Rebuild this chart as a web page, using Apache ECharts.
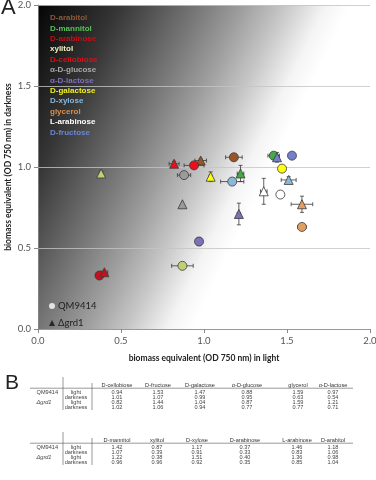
<!DOCTYPE html>
<html>
<head>
<meta charset="utf-8">
<script src="https://cdn.jsdelivr.net/npm/echarts@6/dist/echarts.min.js"></script>
<style>
  html, body { margin: 0; padding: 0; background: #fff; }
  #main { width: 376px; height: 480px; }
</style>
</head>
<body>
<div id="main"></div>
<script>
// sugars in table order (B), first six = upper table, last six = lower table
var sugars = ['D-cellobiose', 'D-fructose', 'D-galactose', 'α-D-glucose', 'glycerol', 'α-D-lactose',
              'D-mannitol', 'xylitol', 'D-xylose', 'D-arabinose', 'L-arabinose', 'D-arabitol'];
var qmLight  = [0.94, 1.53, 1.47, 0.88, 1.59, 0.97, 1.42, 0.87, 1.17, 0.37, 1.46, 1.18];
var qmDark   = [1.01, 1.07, 0.99, 0.95, 0.63, 0.54, 1.07, 0.39, 0.91, 0.33, 0.83, 1.06];
var grdLight = [0.82, 1.44, 1.04, 0.87, 1.59, 1.21, 1.22, 0.38, 1.51, 0.40, 1.36, 0.98];
var grdDark  = [1.02, 1.06, 0.94, 0.77, 0.77, 0.71, 0.96, 0.96, 0.92, 0.35, 0.85, 1.04];
// error bars
var qmErrX  = [0.06, 0, 0.02, 0.04, 0.025, 0.01, 0.035, 0.065, 0.07, 0.02, 0.02, 0.05];
var qmErrY  = [0.01, 0, 0.015, 0.01, 0.01, 0.025, 0.01, 0.01, 0.01, 0.01, 0.02, 0.01];
var grdErrX = [0.03, 0.01, 0.01, 0, 0.065, 0.01, 0.02, 0.01, 0.045, 0.02, 0.02, 0.035];
var grdErrY = [0.015, 0.03, 0.03, 0, 0.05, 0.067, 0.05, 0.015, 0.02, 0.01, 0.08, 0.01];

var legendOrder = ['D-arabitol', 'D-mannitol', 'D-arabinose', 'xylitol', 'D-cellobiose', 'α-D-glucose',
                   'α-D-lactose', 'D-galactose', 'D-xylose', 'glycerol', 'L-arabinose', 'D-fructose'];
var markerColors = {
  'D-arabitol': '#9a5526', 'D-mannitol': '#46a846', 'D-arabinose': '#c8101c', 'xylitol': '#c2cf72',
  'D-cellobiose': '#e8101c', 'α-D-glucose': '#9a9a9a', 'α-D-lactose': '#7b72b8', 'D-galactose': '#ffff10',
  'D-xylose': '#8ab8d6', 'glycerol': '#e2a060', 'L-arabinose': '#ffffff', 'D-fructose': '#7480cc'
};
var labelColors = {
  'D-arabitol': '#8c5a38', 'D-mannitol': '#58c058', 'D-arabinose': '#c80c14', 'xylitol': '#eeeec0',
  'D-cellobiose': '#d8101a', 'α-D-glucose': '#a8a8a8', 'α-D-lactose': '#8070b8', 'D-galactose': '#f0f020',
  'D-xylose': '#88b8dc', 'glycerol': '#d89050', 'L-arabinose': '#ffffff', 'D-fructose': '#6a86d8'
};
var strains = ['QM9414', 'Δgrd1'];
var axisTicks = [0, 0.5, 1.0, 1.5, 2.0];

var chart = echarts.init(document.getElementById('main'));

var series = [];

// error bars
var errData = [];
sugars.forEach(function (s, i) {
  errData.push([qmLight[i], qmDark[i], qmErrX[i], qmErrY[i]]);
  errData.push([grdLight[i], grdDark[i], grdErrX[i], grdErrY[i]]);
});
series.push({
  type: 'custom',
  silent: true,
  z: 2,
  encode: { x: 0, y: 1 },
  data: errData,
  renderItem: function (params, api) {
    var x = api.value(0), y = api.value(1), ex = api.value(2), ey = api.value(3);
    var kids = [];
    var cap = 2;
    var st = { stroke: '#3a3a3a', lineWidth: 0.8 };
    if (ex > 0) {
      var l = api.coord([x - ex, y]), r = api.coord([x + ex, y]);
      kids.push({ type: 'line', shape: { x1: l[0], y1: l[1], x2: r[0], y2: r[1] }, style: st });
      kids.push({ type: 'line', shape: { x1: l[0], y1: l[1] - cap, x2: l[0], y2: l[1] + cap }, style: st });
      kids.push({ type: 'line', shape: { x1: r[0], y1: r[1] - cap, x2: r[0], y2: r[1] + cap }, style: st });
    }
    if (ey > 0) {
      var t = api.coord([x, y + ey]), b = api.coord([x, y - ey]);
      kids.push({ type: 'line', shape: { x1: t[0], y1: t[1], x2: b[0], y2: b[1] }, style: st });
      kids.push({ type: 'line', shape: { x1: t[0] - cap, y1: t[1], x2: t[0] + cap, y2: t[1] }, style: st });
      kids.push({ type: 'line', shape: { x1: b[0] - cap, y1: b[1], x2: b[0] + cap, y2: b[1] }, style: st });
    }
    return { type: 'group', children: kids };
  }
});

// one scatter series per sugar: circle = QM9414, triangle = Δgrd1
legendOrder.forEach(function (name) {
  var i = sugars.indexOf(name);
  series.push({
    type: 'scatter',
    name: name,
    z: 3,
    itemStyle: { color: markerColors[name], borderColor: '#3a3a3a', borderWidth: 0.8, opacity: 1 },
    data: [
      { value: [qmLight[i], qmDark[i]], symbol: 'circle', symbolSize: 9 },
      { value: [grdLight[i], grdDark[i]], symbol: 'triangle', symbolSize: 9 }
    ]
  });
});

// empty series only for the strain legend
series.push({ type: 'scatter', name: strains[0], symbol: 'circle', data: [],
  itemStyle: { color: '#fff', borderColor: '#fff' } });
series.push({ type: 'scatter', name: strains[1], symbol: 'triangle', data: [],
  itemStyle: { color: '#111', borderColor: '#111' } });

// table B as text
var tableFont = '5.6px "Liberation Sans"';
var colX = [[117, 158, 200, 247, 298, 333], [117, 157, 197, 245, 297, 333]];
var rowLabels = ['light', 'darkness', 'light', 'darkness'];
function table(part, top) {
  var els = [];
  var off = [7, 12.3, 17.6, 22.9];
  var rows = [qmLight, qmDark, grdLight, grdDark];
  for (var c = 0; c < 6; c++) {
    var k = part * 6 + c;
    els.push({ type: 'text', style: { text: sugars[k], x: colX[part][c], y: top, font: tableFont,
      fill: '#333', textAlign: 'center', textVerticalAlign: 'middle' } });
    for (var r = 0; r < 4; r++) {
      els.push({ type: 'text', style: { text: rows[r][k].toFixed(2), x: colX[part][c], y: top + off[r],
        font: tableFont, fill: '#444', textAlign: 'center', textVerticalAlign: 'middle' } });
    }
  }
  for (var r2 = 0; r2 < 4; r2++) {
    els.push({ type: 'text', style: { text: rowLabels[r2], x: 76, y: top + off[r2], font: tableFont,
      fill: '#444', textAlign: 'center', textVerticalAlign: 'middle' } });
  }
  els.push({ type: 'text', style: { text: strains[0], x: 58, y: top + off[0], font: tableFont,
    fill: '#444', textAlign: 'right', textVerticalAlign: 'middle' } });
  els.push({ type: 'text', style: { text: strains[1], x: 44, y: top + off[2], font: 'italic ' + tableFont,
    fill: '#444', textAlign: 'center', textVerticalAlign: 'middle' } });
  var ls = { stroke: '#555', lineWidth: 0.6 };
  els.push({ type: 'line', shape: { x1: 30, y1: top + 3.2, x2: 353, y2: top + 3.2 }, style: ls });
  els.push({ type: 'line', shape: { x1: 63, y1: top - 8, x2: 63, y2: top + 25 }, style: ls });
  els.push({ type: 'line', shape: { x1: 92, y1: top - 2, x2: 92, y2: top + 25 }, style: ls });
  return els;
}

var graphics = [
  { type: 'text', style: { text: 'A', x: 1, y: -3, font: '22px "Liberation Sans"', fill: '#222' } },
  { type: 'text', style: { text: 'B', x: 5, y: 373, font: '21px "Liberation Sans"', fill: '#222' } }
].concat(table(0, 385), table(1, 440));

var option = {
  animation: false,
  backgroundColor: '#fff',
  grid: {
    left: 38, right: 6, top: 5, bottom: 151,
    containLabel: false,
    outerBoundsMode: 'none',
    show: true,
    borderWidth: 0,
    backgroundColor: new echarts.graphic.LinearGradient(0, 0, 1, 0.5, [
      { offset: 0, color: '#050505' },
      { offset: 0.2, color: '#363636' },
      { offset: 0.4, color: '#7a7a7a' },
      { offset: 0.5, color: '#9e9e9e' },
      { offset: 0.6, color: '#c6c6c6' },
      { offset: 0.7, color: '#f4f4f4' },
      { offset: 0.76, color: '#ffffff' },
      { offset: 1, color: '#ffffff' }
    ])
  },
  xAxis: {
    type: 'value', min: axisTicks[0], max: axisTicks[4], interval: 0.5,
    name: 'biomass equivalent (OD 750 nm) in light',
    nameLocation: 'middle', nameGap: 25, nameMoveOverlap: false,
    nameTextStyle: { fontFamily: 'Lato', fontWeight: 'bold', fontSize: 8.5, color: '#222' },
    axisLine: { lineStyle: { color: '#8a8a8a', width: 0.8 } },
    axisTick: { show: true, length: 4, lineStyle: { color: '#8a8a8a' } },
    axisLabel: { fontFamily: 'Lato', fontSize: 9.5, color: '#555', margin: 7,
      formatter: function (v) { return v.toFixed(1); } },
    splitLine: { show: false }
  },
  yAxis: {
    type: 'value', min: axisTicks[0], max: axisTicks[4], interval: 0.5,
    name: 'biomass equivalent (OD 750 nm) in darkness',
    nameLocation: 'middle', nameGap: 25, nameMoveOverlap: false,
    nameTextStyle: { fontFamily: 'Lato', fontWeight: 'bold', fontSize: 8.5, color: '#222' },
    axisLine: { show: true, lineStyle: { color: '#8a8a8a', width: 0.8 } },
    axisTick: { show: true, length: 4, lineStyle: { color: '#8a8a8a' } },
    axisLabel: { fontFamily: 'Lato', fontSize: 9.5, color: '#555', margin: 7,
      formatter: function (v) { return v.toFixed(1); } },
    splitLine: { show: true, lineStyle: { color: '#c4c4c4', width: 0.8 } }
  },
  legend: [
    {
      orient: 'vertical', left: 40, top: 6.6,
      icon: 'none', itemWidth: 0, itemHeight: 12.8, itemGap: 0,
      selectedMode: false,
      textStyle: { fontFamily: 'Liberation Sans', fontSize: 8, fontWeight: 'bold' },
      data: legendOrder.map(function (n) { return { name: n, textStyle: { color: labelColors[n] } }; })
    },
    {
      orient: 'vertical', left: 44, top: 296,
      itemWidth: 6, itemHeight: 6, itemGap: 7,
      selectedMode: false,
      textStyle: { fontFamily: 'Lato', fontSize: 9.5, color: '#222', padding: [0, 0, 0, -2] },
      data: strains
    }
  ],
  graphic: graphics,
  series: series
};

chart.setOption(option);
</script>
</body>
</html>
